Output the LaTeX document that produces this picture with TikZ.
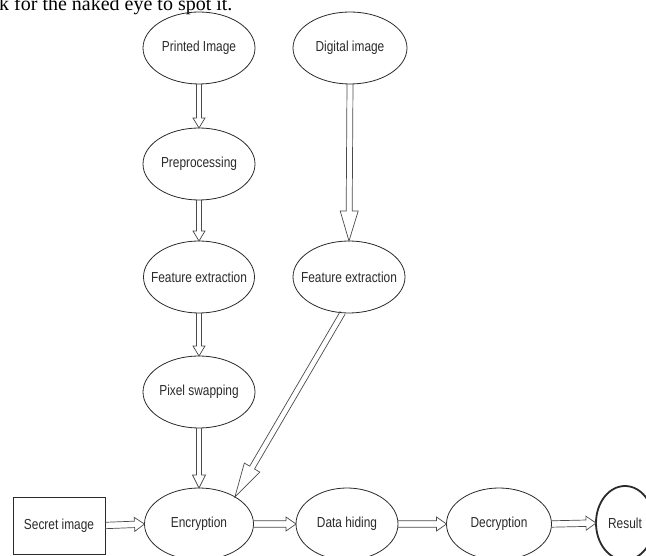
\documentclass[tikz,border=0pt]{standalone}
\usepackage{fontspec}
\setmainfont{Liberation Serif}
\newfontfamily\labfont[FakeStretch=0.82]{Liberation Sans}
\usetikzlibrary{shapes.geometric,calc}
\definecolor{ink}{HTML}{2A2A2A}
\newcommand\tx[1]{\makebox[0pt]{#1}}
\newcommand\dblarrow[5]{%
  \coordinate (hb) at ($(#2)!#4!(#1)$);
  \draw[arr] ($(#1)!#3!90:(#2)$) -- ($(hb)!#3!90:(#2)$) -- ($(hb)!#5!90:(#2)$) -- (#2)
     -- ($(hb)!#5!-90:(#2)$) -- ($(hb)!#3!-90:(#2)$) -- ($(#1)!#3!-90:(#2)$);}
\tikzset{
  proc/.style={draw=ink, line width=0.8pt, ellipse, minimum height=72pt, inner sep=0pt, outer sep=0pt,
    text=ink, font=\labfont\fontsize{14.5}{16}\selectfont},
  boxnode/.style={draw=ink, line width=0.8pt, rectangle, minimum width=92pt, minimum height=57pt, inner sep=0pt,
    outer sep=0pt, text=ink, font=\labfont\fontsize{14.5}{16}\selectfont},
  arr/.style={draw=ink!85, line width=0.7pt, line join=miter},
  toptext/.style={anchor=base west, inner sep=0pt, font=\fontsize{20}{22}\selectfont}
}
\begin{document}
\begin{tikzpicture}[x=1pt,y=-1pt]
\useasboundingbox (0,0) rectangle (646,556);
\clip (0,0) rectangle (646,556);
\node[toptext] (hdr) at (-1,11) {k for the naked eye to spot it.};
\node[proc, minimum width=112pt] (pi) at (199,48) {\tx{Printed Image}};
\node[proc, minimum width=114pt] (di) at (350,48) {\tx{Digital image}};
\node[proc, minimum width=112pt] (pre) at (199,164) {\tx{Preprocessing}};
\node[proc, minimum width=111pt] (fe1) at (199,277) {\tx{Feature extraction}};
\node[proc, minimum width=112pt] (fe2) at (349,277) {\tx{Feature extraction}};
\node[proc, minimum width=112pt] (px) at (199,392) {\tx{Pixel swapping}};
\node[proc, minimum width=109pt] (enc) at (199,524) {\tx{Encryption}};
\node[proc, minimum width=102pt] (dh) at (347,524) {\tx{Data hiding}};
\node[proc, minimum width=105pt] (dec) at (499,524) {\tx{Decryption}};
\node[proc, line width=1.8pt, minimum width=58pt, minimum height=74pt] (res) at (625,523) {\tx{Result}};
\node[boxnode] (sec) at (59,525.5) {\tx{Secret image}};
\dblarrow{pi.south}{pre.north}{2.5pt}{10pt}{6pt}
\dblarrow{pre.south}{fe1.north}{2.5pt}{10pt}{6pt}
\dblarrow{fe1.south}{px.north}{2.5pt}{10pt}{6pt}
\dblarrow{px.south}{enc.north}{2.5pt}{13pt}{6.5pt}
\dblarrow{di.south}{fe2.north}{3pt}{30pt}{9pt}
\dblarrow{fe2.-100}{enc.37}{2.8pt}{34pt}{9pt}
\dblarrow{sec.east}{enc.west}{3.2pt}{10pt}{7pt}
\dblarrow{enc.east}{dh.west}{3.2pt}{10pt}{7pt}
\dblarrow{dh.east}{dec.west}{3.2pt}{10pt}{7pt}
\dblarrow{dec.east}{res.west}{3.2pt}{10pt}{7pt}
\end{tikzpicture}
\end{document}
